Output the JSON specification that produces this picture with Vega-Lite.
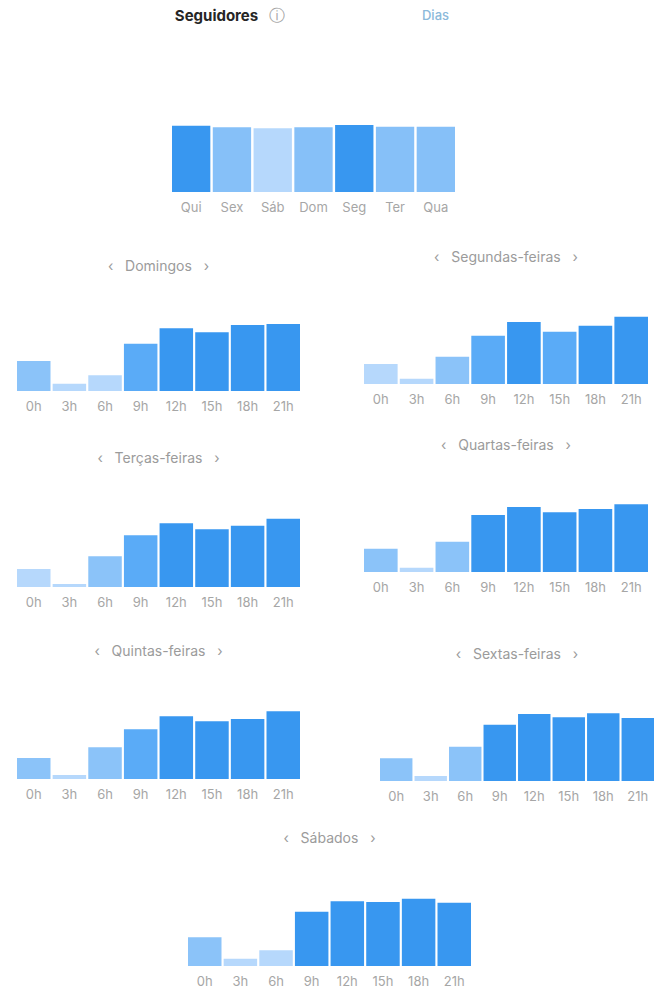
{
  "$schema": "https://vega.github.io/schema/vega-lite/v6.json",
  "background": "white",
  "padding": 0,
  "datasets": {
    "t1": [{"t": "Seguidores"}],
    "t2": [{"t": "ⓘ"}],
    "t3": [{"t": "Dias"}],
    "days": [
      {"d": "Qui", "f": 66.3}, {"d": "Sex", "f": 64.7}, {"d": "Sáb", "f": 63.7}, {"d": "Dom", "f": 64.7},
      {"d": "Seg", "f": 67.0}, {"d": "Ter", "f": 65.3}, {"d": "Qua", "f": 65.3}
    ],
    "dom": [
      {"h": "0h", "v": 30.0}, {"h": "3h", "v": 7.3}, {"h": "6h", "v": 15.7}, {"h": "9h", "v": 47.3},
      {"h": "12h", "v": 62.7}, {"h": "15h", "v": 58.7}, {"h": "18h", "v": 66.0}, {"h": "21h", "v": 67.0}
    ],
    "seg": [
      {"h": "0h", "v": 20.0}, {"h": "3h", "v": 5.3}, {"h": "6h", "v": 27.3}, {"h": "9h", "v": 48.3},
      {"h": "12h", "v": 62.0}, {"h": "15h", "v": 52.3}, {"h": "18h", "v": 58.3}, {"h": "21h", "v": 67.3}
    ],
    "ter": [
      {"h": "0h", "v": 18.0}, {"h": "3h", "v": 3.0}, {"h": "6h", "v": 30.7}, {"h": "9h", "v": 51.7},
      {"h": "12h", "v": 63.7}, {"h": "15h", "v": 57.7}, {"h": "18h", "v": 61.3}, {"h": "21h", "v": 68.3}
    ],
    "qua": [
      {"h": "0h", "v": 23.3}, {"h": "3h", "v": 4.3}, {"h": "6h", "v": 30.3}, {"h": "9h", "v": 57.0},
      {"h": "12h", "v": 65.0}, {"h": "15h", "v": 59.7}, {"h": "18h", "v": 63.0}, {"h": "21h", "v": 67.7}
    ],
    "qui": [
      {"h": "0h", "v": 21.0}, {"h": "3h", "v": 4.0}, {"h": "6h", "v": 31.7}, {"h": "9h", "v": 49.7},
      {"h": "12h", "v": 62.7}, {"h": "15h", "v": 57.7}, {"h": "18h", "v": 60.0}, {"h": "21h", "v": 67.7}
    ],
    "sex": [
      {"h": "0h", "v": 22.7}, {"h": "3h", "v": 5.0}, {"h": "6h", "v": 34.3}, {"h": "9h", "v": 56.3},
      {"h": "12h", "v": 67.0}, {"h": "15h", "v": 63.7}, {"h": "18h", "v": 67.7}, {"h": "21h", "v": 63.0}
    ],
    "sab": [
      {"h": "0h", "v": 28.7}, {"h": "3h", "v": 7.3}, {"h": "6h", "v": 15.7}, {"h": "9h", "v": 54.3},
      {"h": "12h", "v": 64.7}, {"h": "15h", "v": 64.0}, {"h": "18h", "v": 67.3}, {"h": "21h", "v": 63.3}
    ]
  },
  "spacing": 0,
  "resolve": {"scale": {"color": "independent"}},
  "vconcat": [
    {
      "bounds": "flush", "spacing": 0,
      "hconcat": [
        {"width": 172, "height": 32, "data": {"values": []}, "mark": "point"},
        {"width": 89, "height": 32, "data": {"name": "t1"}, "mark": {"type": "text", "font": "Inter", "fontSize": 15, "fontWeight": "bold", "color": "#262626"}, "encoding": {"text": {"field": "t"}}},
        {"width": 32, "height": 32, "data": {"name": "t2"}, "mark": {"type": "text", "font": "DejaVu Sans", "fontSize": 16, "color": "#a3a3a3"}, "encoding": {"text": {"field": "t"}}},
        {"width": 285, "height": 32, "data": {"name": "t3"}, "mark": {"type": "text", "font": "Inter", "fontSize": 13, "fontWeight": 500, "color": "#8bb9da"}, "encoding": {"text": {"field": "t"}}}
      ]
    },
    {
      "bounds": "flush", "spacing": 0,
      "hconcat": [
        {"width": 172, "height": 1, "data": {"values": []}, "mark": "point"},
        {
          "width": 283, "height": 160,
          "data": {"name": "days"},
          "mark": {"type": "bar"},
          "encoding": {
            "x": {"field": "d", "type": "nominal", "sort": null, "scale": {"paddingInner": 0.06, "paddingOuter": 0}, "axis": {"title": null, "minExtent": 26}},
            "y": {"field": "f", "type": "quantitative", "scale": {"domain": [0, 160], "nice": false}, "axis": null},
            "color": {"field": "f", "type": "quantitative", "scale": {"type": "threshold", "domain": [64.2, 66], "range": ["#b6d8fc", "#86c0f8", "#3897f0"]}, "legend": null}
          }
        }
      ]
    },
    {
      "spacing": 0,
      "hconcat": [
        {"width": 17, "height": 1, "data": {"values": []}, "mark": "point"},
        {
          "spacing": 0,
          "vconcat": [
            {
              "width": 283, "height": 173, "data": {"name": "dom"},
              "title": {"text": "‹\u00a0\u00a0\u00a0Domingos\u00a0\u00a0\u00a0›", "offset": -56},
              "mark": {"type": "bar"},
              "encoding": {
                "x": {"field": "h", "type": "nominal", "sort": null, "scale": {"paddingInner": 0.06, "paddingOuter": 0}, "axis": {"title": null, "minExtent": 26}},
                "y": {"field": "v", "type": "quantitative", "scale": {"domain": [0, 173], "nice": false}, "axis": null},
                "color": {"field": "v", "type": "quantitative", "scale": {"type": "threshold", "domain": [20.5, 40, 53], "range": ["#b6d8fc", "#8bc3f9", "#5aabf7", "#3897f0"]}, "legend": null}
              }
            },
            {
              "width": 283, "height": 170, "data": {"name": "ter"},
              "title": {"text": "‹\u00a0\u00a0\u00a0Terças-feiras\u00a0\u00a0\u00a0›", "offset": -49},
              "mark": {"type": "bar"},
              "encoding": {
                "x": {"field": "h", "type": "nominal", "sort": null, "scale": {"paddingInner": 0.06, "paddingOuter": 0}, "axis": {"title": null, "minExtent": 26}},
                "y": {"field": "v", "type": "quantitative", "scale": {"domain": [0, 170], "nice": false}, "axis": null},
                "color": {"field": "v", "type": "quantitative", "scale": {"type": "threshold", "domain": [20.5, 40, 53], "range": ["#b6d8fc", "#8bc3f9", "#5aabf7", "#3897f0"]}, "legend": null}
              }
            },
            {
              "width": 283, "height": 166, "data": {"name": "qui"},
              "title": {"text": "‹\u00a0\u00a0\u00a0Quintas-feiras\u00a0\u00a0\u00a0›", "offset": -46},
              "mark": {"type": "bar"},
              "encoding": {
                "x": {"field": "h", "type": "nominal", "sort": null, "scale": {"paddingInner": 0.06, "paddingOuter": 0}, "axis": {"title": null, "minExtent": 26}},
                "y": {"field": "v", "type": "quantitative", "scale": {"domain": [0, 166], "nice": false}, "axis": null},
                "color": {"field": "v", "type": "quantitative", "scale": {"type": "threshold", "domain": [20.5, 40, 53], "range": ["#b6d8fc", "#8bc3f9", "#5aabf7", "#3897f0"]}, "legend": null}
              }
            }
          ]
        },
        {"width": 64, "height": 1, "data": {"values": []}, "mark": "point"},
        {
          "spacing": 0,
          "vconcat": [
            {
              "width": 284, "height": 166, "data": {"name": "seg"},
              "title": {"text": "‹\u00a0\u00a0\u00a0Segundas-feiras\u00a0\u00a0\u00a0›", "offset": -47},
              "mark": {"type": "bar"},
              "encoding": {
                "x": {"field": "h", "type": "nominal", "sort": null, "scale": {"paddingInner": 0.06, "paddingOuter": 0}, "axis": {"title": null, "minExtent": 26}},
                "y": {"field": "v", "type": "quantitative", "scale": {"domain": [0, 166], "nice": false}, "axis": null},
                "color": {"field": "v", "type": "quantitative", "scale": {"type": "threshold", "domain": [20.5, 40, 53], "range": ["#b6d8fc", "#8bc3f9", "#5aabf7", "#3897f0"]}, "legend": null}
              }
            },
            {
              "width": 284, "height": 162, "data": {"name": "qua"},
              "title": {"text": "‹\u00a0\u00a0\u00a0Quartas-feiras\u00a0\u00a0\u00a0›", "offset": -43},
              "mark": {"type": "bar"},
              "encoding": {
                "x": {"field": "h", "type": "nominal", "sort": null, "scale": {"paddingInner": 0.06, "paddingOuter": 0}, "axis": {"title": null, "minExtent": 26}},
                "y": {"field": "v", "type": "quantitative", "scale": {"domain": [0, 162], "nice": false}, "axis": null},
                "color": {"field": "v", "type": "quantitative", "scale": {"type": "threshold", "domain": [20.5, 40, 53], "range": ["#b6d8fc", "#8bc3f9", "#5aabf7", "#3897f0"]}, "legend": null}
              }
            },
            {
              "bounds": "flush", "spacing": 0,
              "hconcat": [
                {"width": 16, "height": 1, "data": {"values": []}, "mark": "point"},
                {
                  "width": 274, "height": 183, "data": {"name": "sex"},
                  "title": {"text": "‹\u00a0\u00a0\u00a0Sextas-feiras\u00a0\u00a0\u00a0›", "offset": -64},
                  "mark": {"type": "bar"},
                  "encoding": {
                    "x": {"field": "h", "type": "nominal", "sort": null, "scale": {"paddingInner": 0.06, "paddingOuter": 0}, "axis": {"title": null, "minExtent": 26}},
                    "y": {"field": "v", "type": "quantitative", "scale": {"domain": [0, 183], "nice": false}, "axis": null},
                    "color": {"field": "v", "type": "quantitative", "scale": {"type": "threshold", "domain": [20.5, 40, 53], "range": ["#b6d8fc", "#8bc3f9", "#5aabf7", "#3897f0"]}, "legend": null}
                  }
                }
              ]
            }
          ]
        }
      ]
    },
    {
      "bounds": "flush", "spacing": 0,
      "hconcat": [
        {"width": 188, "height": 1, "data": {"values": []}, "mark": "point"},
        {
          "width": 283, "height": 159, "data": {"name": "sab"},
          "title": {"text": "‹\u00a0\u00a0\u00a0Sábados\u00a0\u00a0\u00a0›", "offset": -39},
          "mark": {"type": "bar"},
          "encoding": {
            "x": {"field": "h", "type": "nominal", "sort": null, "scale": {"paddingInner": 0.06, "paddingOuter": 0}, "axis": {"title": null}},
            "y": {"field": "v", "type": "quantitative", "scale": {"domain": [0, 159], "nice": false}, "axis": null},
            "color": {"field": "v", "type": "quantitative", "scale": {"type": "threshold", "domain": [20.5, 40, 53], "range": ["#b6d8fc", "#8bc3f9", "#5aabf7", "#3897f0"]}, "legend": null}
          }
        }
      ]
    }
  ],
  "config": {
    "view": {"stroke": null},
    "font": "Inter",
    "axisX": {"labelAngle": 0, "ticks": false, "domain": false, "grid": false, "labelPadding": 9, "labelFont": "Inter", "labelFontSize": 13, "labelColor": "#a6a6a6"},
    "title": {"font": "Inter", "fontSize": 14, "fontWeight": "normal", "color": "#9b9b9b", "baseline": "middle", "anchor": "middle"}
  }
}
